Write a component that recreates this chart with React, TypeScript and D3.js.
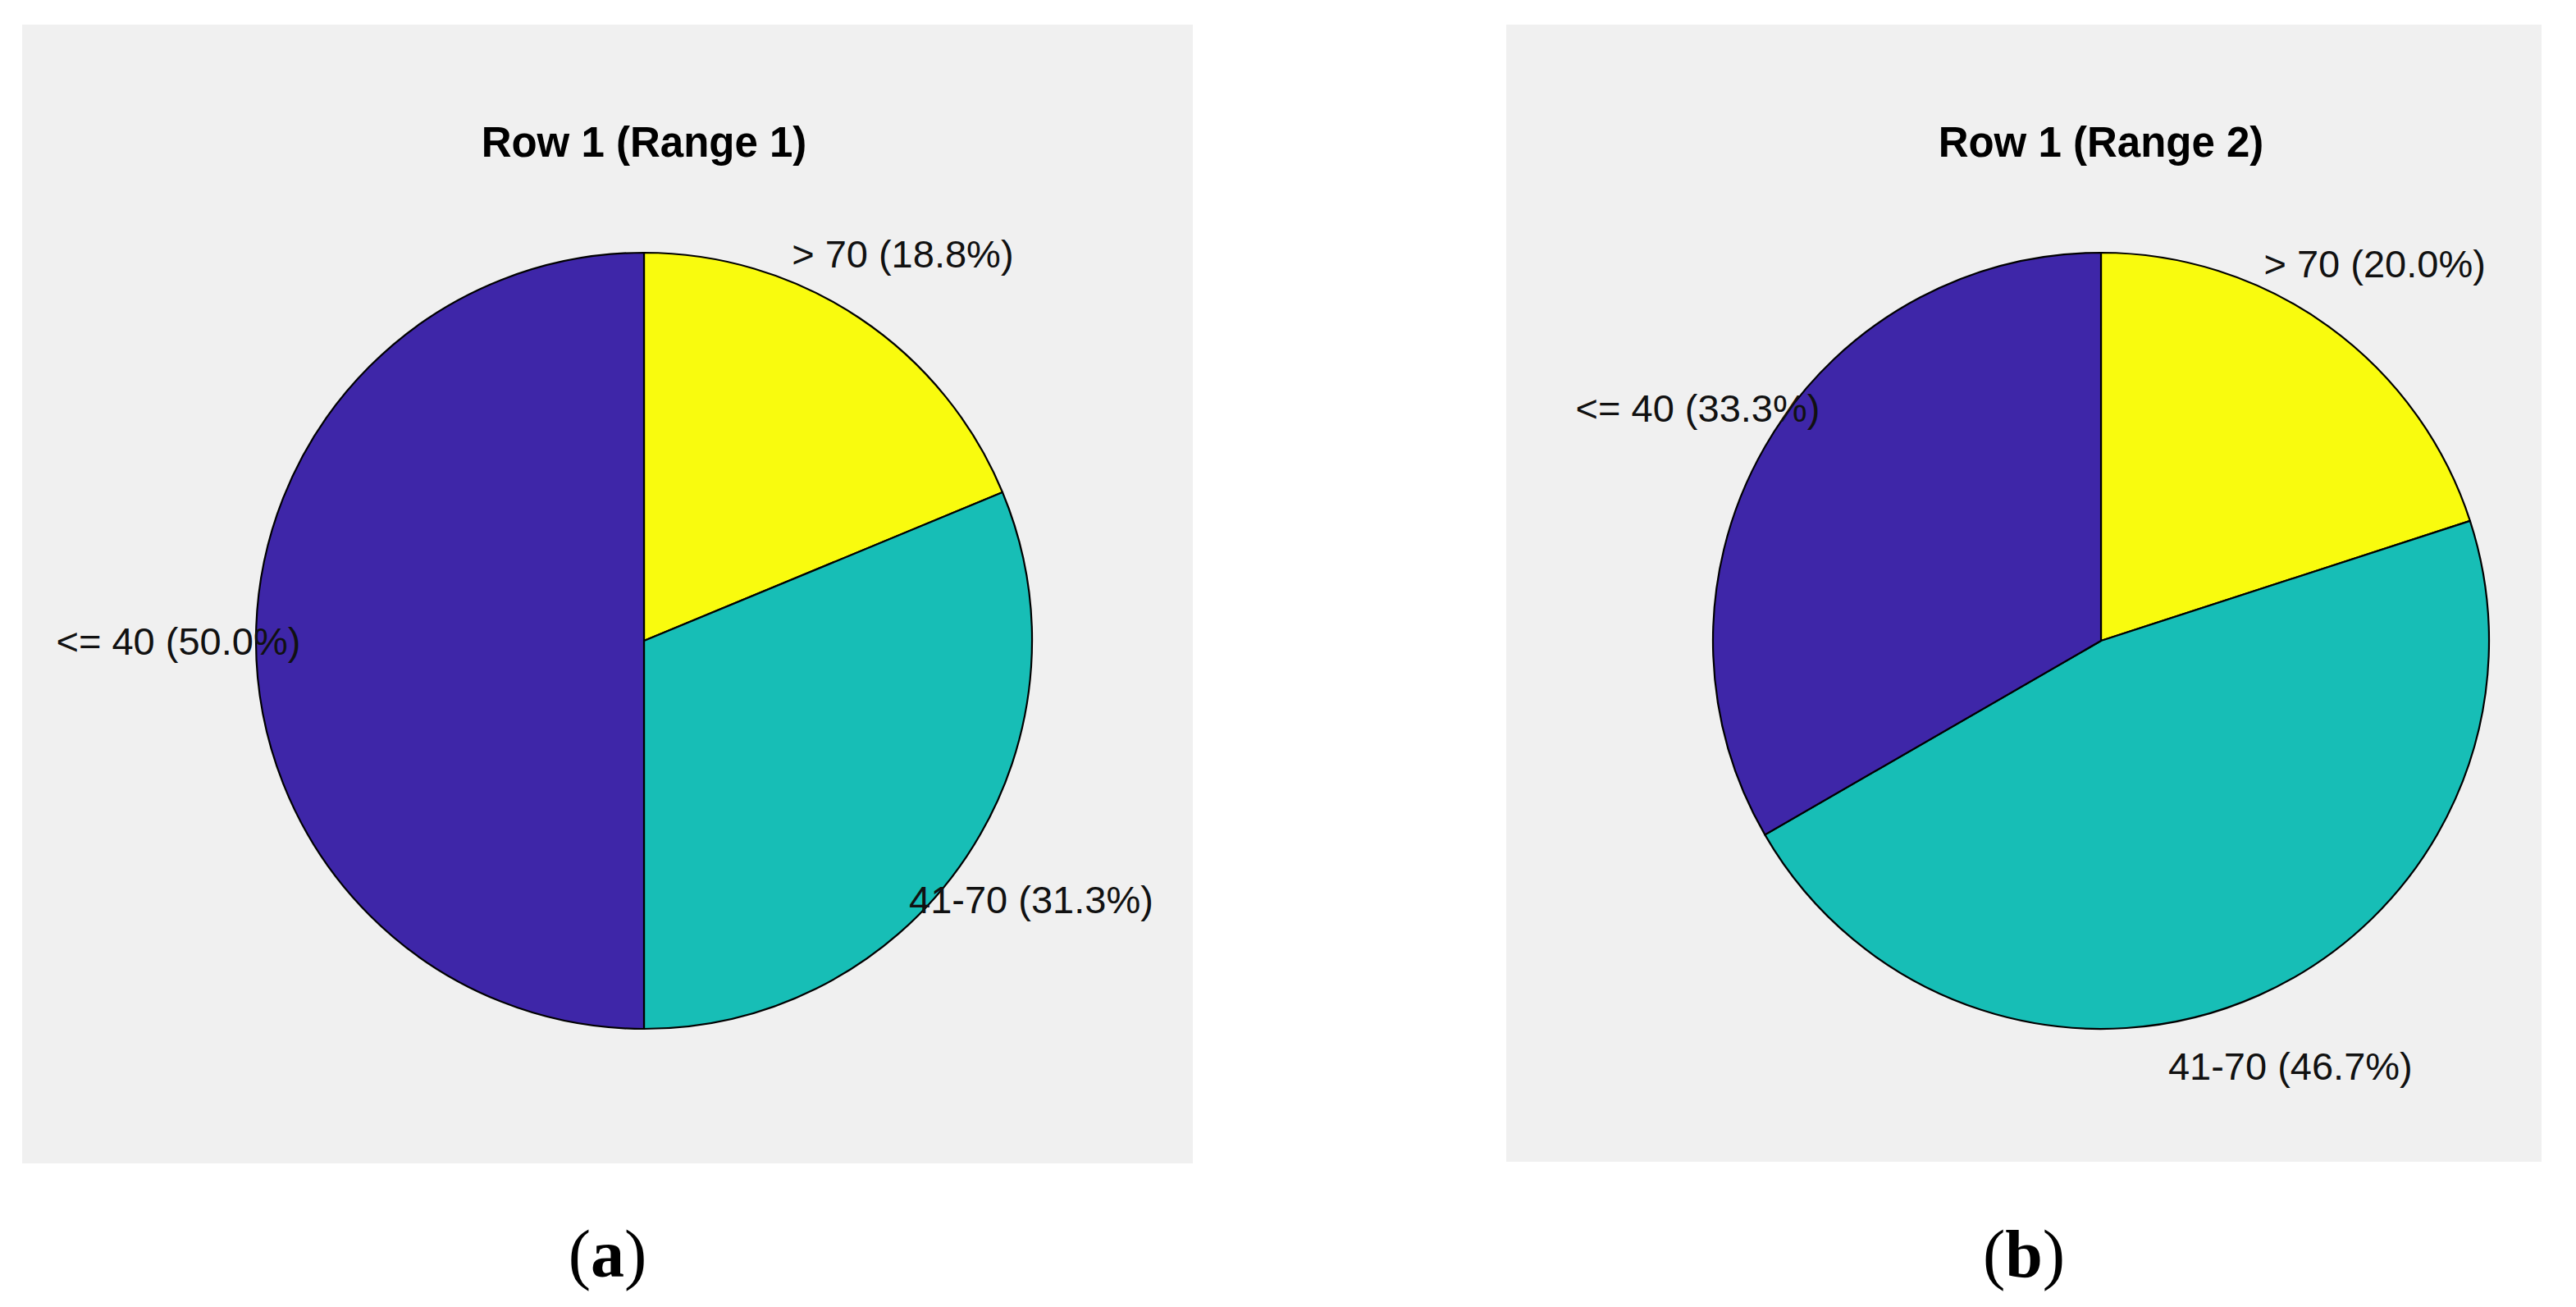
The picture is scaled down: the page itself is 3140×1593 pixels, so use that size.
import React from "react";
import * as d3 from "d3";

// ---- data ----
const categories = ["> 70", "41-70", "<= 40"];
const range1Values = [18.75, 31.25, 50.0];
const range2Values = [20.0, 46.67, 33.33];
const panelTitles = ["Row 1 (Range 1)", "Row 1 (Range 2)"];
const subCaptions = ["a", "b"];
const sliceColors = ["#F9FB0E", "#17BEB6", "#3E26A8"];

const W = 3140;
const H = 1593;

const panels = [
  { x0: 27, x1: 1454, y0: 30, y1: 1418, cx: 785, cy: 781, values: range1Values },
  { x0: 1836, x1: 3098, y0: 30, y1: 1416, cx: 2561, cy: 781, values: range2Values },
];
const R = 473;

function PiePanel({ p, i }: { p: any; i: number }) {
  const pie = d3
    .pie<number>()
    .sort(null)
    .value((d) => d)
    .startAngle(0)
    .endAngle(2 * Math.PI);
  const arcs = pie(p.values);
  const arc = d3.arc<d3.PieArcDatum<number>>().innerRadius(0).outerRadius(R);
  const labelArc = d3
    .arc<d3.PieArcDatum<number>>()
    .innerRadius(R * 1.2)
    .outerRadius(R * 1.2);
  return (
    <g>
      <rect x={p.x0} y={p.y0} width={p.x1 - p.x0} height={p.y1 - p.y0} fill="#F0F0F0" />
      <text
        x={p.cx}
        y={191}
        textAnchor="middle"
        fontFamily="'Liberation Sans', Arial, sans-serif"
        fontWeight="bold"
        fontSize={51}
        fill="#000"
      >
        {panelTitles[i]}
      </text>
      <g transform={`translate(${p.cx},${p.cy})`}>
        {arcs.map((a, k) => (
          <path
            key={k}
            d={arc(a) || ""}
            fill={sliceColors[k]}
            stroke="#000"
            strokeWidth={2.2}
            strokeLinejoin="round"
          />
        ))}
        {arcs.map((a, k) => {
          const [lx, ly] = labelArc.centroid(a);
          return (
            <text
              key={"l" + k}
              x={lx}
              y={ly}
              textAnchor="middle"
              dominantBaseline="central"
              fontFamily="'Liberation Sans', Arial, sans-serif"
              fontSize={47}
              fill="#111"
            >
              {`${categories[k]} (${a.data.toFixed(1)}%)`}
            </text>
          );
        })}
      </g>
      <text
        x={(p.x0 + p.x1) / 2}
        y={1556}
        textAnchor="middle"
        fontFamily="'Liberation Serif', 'Times New Roman', serif"
        fontSize={82}
        fill="#000"
      >
        (<tspan fontWeight="bold">{subCaptions[i]}</tspan>)
      </text>
    </g>
  );
}

export default function App() {
  return (
    <svg
      width={W}
      height={H}
      viewBox={`0 0 ${W} ${H}`}
      style={{ position: "absolute", left: 0, top: 0, background: "#fff" }}
    >
      <rect x={0} y={0} width={W} height={H} fill="#fff" />
      {panels.map((p, i) => (
        <PiePanel key={i} p={p} i={i} />
      ))}
    </svg>
  );
}
